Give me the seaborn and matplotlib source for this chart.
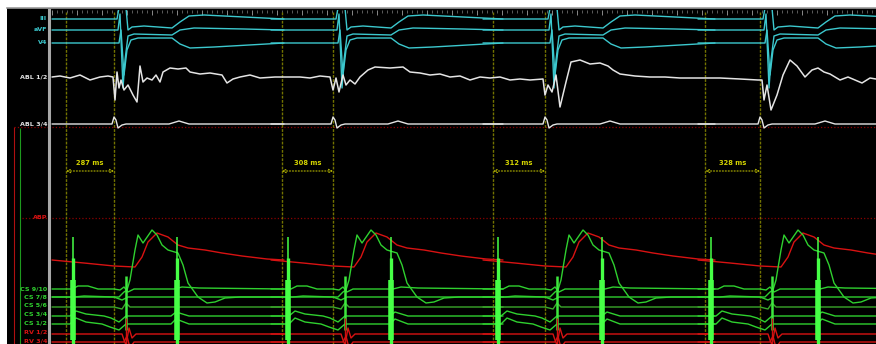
import numpy as np
import pandas as pd
import matplotlib
matplotlib.use("Agg")
import matplotlib.pyplot as plt
import seaborn as sns

# ---- data (time in ms from left edge of sweep, deflections in screen units, up = +) ----
beat_ms = [372, 1686, 2958, 4248]            # local ABL activation = caliper end
pace_ms = [126, 750, 1416, 2034, 2676, 3300, 3954, 4596]
intervals = [287, 308, 312, 328]
interval_labels = [f"{v} ms" for v in intervals]

# one beat, relative to activation
iii_dx = [-372, -60, 18, 30, 72, 84, 108, 180, 348, 396, 450, 540, 780, 1020]
iii_v = [0, 0, 0, 11, 11, -11, -8, -7, -9, -3, 3, 4, 2, 0]
avf_dx = [-372, 0, 24, 36, 54, 66, 84, 120, 348, 396, 480, 780, 1020]
avf_v = [0, 0, 0, 16, -58, -30, -6, -4, -5, 0, 2, 1, 0]
v4_dx = [-372, 0, 30, 42, 60, 78, 102, 144, 348, 396, 456, 600, 1020]
v4_v = [0, 0, 0, 13, -32, -7, 3, 5, 5, -1, -5, -4, 0]
abl34_dx = [-372, -12, 0, 12, 24, 48, 72, 330, 390, 450, 1020]
abl34_v = [0, 0, 7, 4, -4, -1, 0, 0, 3, 0, 0]
abp_dx = [-372, -180, 0, 126, 168, 204, 258, 324, 384, 444, 546, 648, 768, 918, 1020]
abp_v = [5, 2, -1, -2, 8, 23, 32, 28, 20, 17, 15, 12, 9, 6, 5]
wave_dx = [-372, 30, 60, 78, 96, 126, 144, 174, 228, 258, 288, 324, 384, 414, 444,
           504, 558, 606, 666, 756, 1020]
wave_v = [0, 0, 5, 7, 17, 47, 62, 54, 67, 62, 52, 47, 44, 32, 14, 0, -6, -5, -1, 0, 0]
cs910_dx = [-372, -252, -216, -156, -96, 0, 36, 60, 84, 120, 360, 408, 510, 1020]
cs910_v = [0, 0, 3, 3, 0, 0, -1, 2, -3, 0, 0, 2, 1, 0]
cs78_dx = [-372, -240, -180, 0, 48, 84, 1020]
cs78_v = [0, 0, 1, 0, -3, 0, 0]
cs56_dx = [-372, 0, 48, 72, 96, 1020]
cs56_v = [0, 0, -2, 4, 0, 0]
cs34_dx = [-372, -264, -228, -168, -60, -18, 30, 72, 342, 372, 450, 1020]
cs34_v = [0, 0, 5, 2, 0, -2, -6, 0, 0, 4, 0, 0]
cs12_dx = [-372, -264, -228, -168, -72, -24, 30, 72, 342, 372, 450, 1020]
cs12_v = [0, 0, 6, 2, 0, -3, -6, 0, 0, 5, 0, 0]
rv12_dx = [-372, 48, 60, 72, 90, 108, 132, 1020]
rv12_v = [0, 0, -6, -11, 6, -4, 0, 0]
rv34_dx = [-372, 60, 78, 96, 120, 1020]
rv34_v = [0, 0, 6, -6, 0, 0]

# ABL 1/2 read along the whole sweep
abl12_ms = [0, 48, 108, 168, 228, 288, 336, 366, 378, 390, 402, 414, 432, 456, 486, 510,
            528, 546, 570, 600, 624, 648, 666, 708, 756, 804, 828, 888, 948, 1020, 1050,
            1086, 1128, 1188, 1248, 1338, 1428, 1488, 1548, 1608, 1668, 1686, 1704, 1722,
            1746, 1764, 1788, 1818, 1848, 1896, 1938, 2028, 2106, 2148, 2208, 2268, 2328,
            2388, 2448, 2508, 2568, 2628, 2688, 2748, 2808, 2868, 2946, 2958, 2976, 3000,
            3024, 3048, 3084, 3114, 3168, 3228, 3288, 3336, 3366, 3408, 3498, 3588, 3678,
            3768, 3888, 4008, 4128, 4236, 4260, 4272, 4290, 4314, 4350, 4386, 4428, 4470,
            4518, 4560, 4596, 4632, 4668, 4728, 4776, 4818, 4860, 4908, 4944]
abl12_v = [0, 1, -1, 2, -3, 0, 1, 0, -23, 5,
           -11, -3, -13, -8, -18, -25, 11, -5, -1, -3,
           2, -5, 5, 9, 8, 9, 5, 3, 4, 2,
           -6, -2, 0, 2, -1, 0, 0, 0, -1, 1,
           0, -13, -1, -15, 2, -8, -3, -7, 0, 7,
           10, 9, 10, 5, 4, 2, 3, 0, 1, -3,
           0, -1, 0, -3, -2, -3, -2, -18, -8, -15,
           2, -30, -5, 15, 17, 13, 14, 11, 7, 3,
           1, 0, 0, -1, -1, -1, -2, -3, -3, -23,
           -8, -33, -18, 2, 17, 11, 0, 7, 9, 5,
           3, -3, 0, -3, -6, -1, -2]

# ---- layout: screen row of each channel (pixels from top) ----
rows = {"III": 19, "aVF": 30, "V4": 43, "ABL 1/2": 77, "ABL 3/4": 124, "ABP": 265,
        "wave": 297, "CS 9/10": 289, "CS 7/8": 297, "CS 5/6": 307, "CS 3/4": 316,
        "CS 1/2": 324, "RV 1/2": 334, "RV 3/4": 342}
label_rows = {"III": 19, "aVF": 30, "V4": 43, "ABL 1/2": 77, "ABL 3/4": 124, "ABP": 218,
              "CS 9/10": 289, "CS 7/8": 297, "CS 5/6": 305, "CS 3/4": 314, "CS 1/2": 323,
              "RV 1/2": 332, "RV 3/4": 341}
CYAN, WHITE, GREEN, RED = "#3cc8ce", "#e4e4e4", "#2fd02f", "#d81212"
label_colors = {"III": CYAN, "aVF": CYAN, "V4": CYAN, "ABL 1/2": WHITE, "ABL 3/4": WHITE,
                "ABP": RED, "RV 1/2": RED, "RV 3/4": RED}


def beats(dx, v, row):
    parts = []
    for k, b in enumerate(beat_ms):
        parts.append(pd.DataFrame({"t": np.add(dx, b), "y": row - np.asarray(v), "beat": k}))
    return pd.concat(parts, ignore_index=True)


sns.set_style("white")
plt.rcParams["font.family"] = ["DejaVu Sans"]

W, H = 876, 344
fig = plt.figure(figsize=(W / 100, H / 100), dpi=100)
fig.patch.set_facecolor("white")

bg = fig.add_axes([7 / W, 0, (W - 7) / W, (H - 8) / H])
bg.set_facecolor("black")
bg.set_xticks([]); bg.set_yticks([])
for s in bg.spines.values():
    s.set_visible(False)
bg.spines["top"].set_visible(True)
bg.spines["top"].set_color("#9a9a9a")
bg.spines["top"].set_linewidth(1.2)

# left label panel
lp = fig.add_axes([7 / W, 0, 42 / W, (H - 10) / H])
lp.set_facecolor("none")
lp.set_xlim(7, 49); lp.set_ylim(H, 10)
lp.axis("off")
for name, r in label_rows.items():
    lp.text(47, r, name, ha="right", va="center", fontsize=4.6, fontweight="bold",
            color=label_colors.get(name, GREEN))
lp.vlines(14, 127, H, color="#b01010", lw=0.8)
lp.vlines(20, 128, H, color="#1e9a1e", lw=0.8)
lp.hlines([127, 218], [14, 22], 49, color="#8a0000", lw=0.9, ls=":")

# main sweep
ax = fig.add_axes([49 / W, 0, (W - 49) / W, (H - 10) / H])
ax.set_facecolor("none")
ax.set_xlim(-18, 4944)
ax.set_ylim(H, 10)

ax.hlines([127, 218], 0, 4944, color="#8a0000", lw=0.9, ls=":")

# calipers
cal_end = beat_ms
cal_start = [e - i for e, i in zip(cal_end, intervals)]
ax.vlines(cal_start + cal_end, 12, H, color="#737300", lw=1.0, ls=(0, (2, 1)))
for s, e, lab in zip(cal_start, cal_end, interval_labels):
    ax.annotate("", xy=(s, 171), xytext=(e, 171),
                arrowprops=dict(arrowstyle="<->", color="#b4b400", lw=0.8, ls=":",
                                shrinkA=0, shrinkB=0, mutation_scale=6))
    ax.text((s + e) / 2, 163, lab, ha="center", va="center", fontsize=4.9,
            fontweight="bold", color="#d4d400")

traces = [
    (iii_dx, iii_v, "III", CYAN),
    (avf_dx, avf_v, "aVF", CYAN),
    (v4_dx, v4_v, "V4", CYAN),
    (abl34_dx, abl34_v, "ABL 3/4", WHITE),
    (abp_dx, abp_v, "ABP", RED),
    (cs910_dx, cs910_v, "CS 9/10", GREEN),
    (cs78_dx, cs78_v, "CS 7/8", GREEN),
    (cs56_dx, cs56_v, "CS 5/6", "#3aa82a"),
    (cs34_dx, cs34_v, "CS 3/4", GREEN),
    (cs12_dx, cs12_v, "CS 1/2", GREEN),
    (rv12_dx, rv12_v, "RV 1/2", RED),
    (rv34_dx, rv34_v, "RV 3/4", RED),
    (wave_dx, wave_v, "wave", GREEN),
]
for dx, v, name, col in traces:
    df = beats(dx, v, rows[name])
    sns.lineplot(data=df, x="t", y="y", units="beat", estimator=None, sort=False,
                 color=col, lw=1.0, ax=ax, legend=False)

abl = pd.DataFrame({"t": abl12_ms, "y": rows["ABL 1/2"] - np.asarray(abl12_v)})
sns.lineplot(data=abl, x="t", y="y", estimator=None, sort=False, color=WHITE, lw=1.1,
             ax=ax, legend=False)

# pacing stimuli on the CS catheter
ax.vlines(pace_ms, 237, H, color="#46ff46", lw=1.1)
ax.vlines(pace_ms, 258, H, color="#46ff46", lw=2.4)
ax.vlines(pace_ms, 280, 340, color="#46ff46", lw=4.0)
# local ventricular deflection
act = [b + 72 for b in beat_ms]
ax.vlines(act, 276, 330, color="#3ee83e", lw=1.8)
ax.vlines(act, 318, H, color="#d01010", lw=1.0)

ax.set_xlabel(""); ax.set_ylabel("")
ax.xaxis.set_ticks_position("top")
ax.set_xticks(np.arange(0, 4944, 150))
ax.set_xticks(np.arange(0, 4944, 30), minor=True)
ax.tick_params(axis="x", which="major", direction="in", length=3.5, color="#8a8a8a",
               labeltop=False, labelbottom=False, width=0.7)
ax.tick_params(axis="x", which="minor", direction="in", length=2, color="#6a6a6a", width=0.6)
ax.set_yticks([])
for side in ["right", "bottom", "top"]:
    ax.spines[side].set_visible(False)
ax.spines["left"].set_color("#a8a8a8")
ax.spines["left"].set_linewidth(2.2)

fig.savefig("out.png", dpi=100, facecolor="white")
